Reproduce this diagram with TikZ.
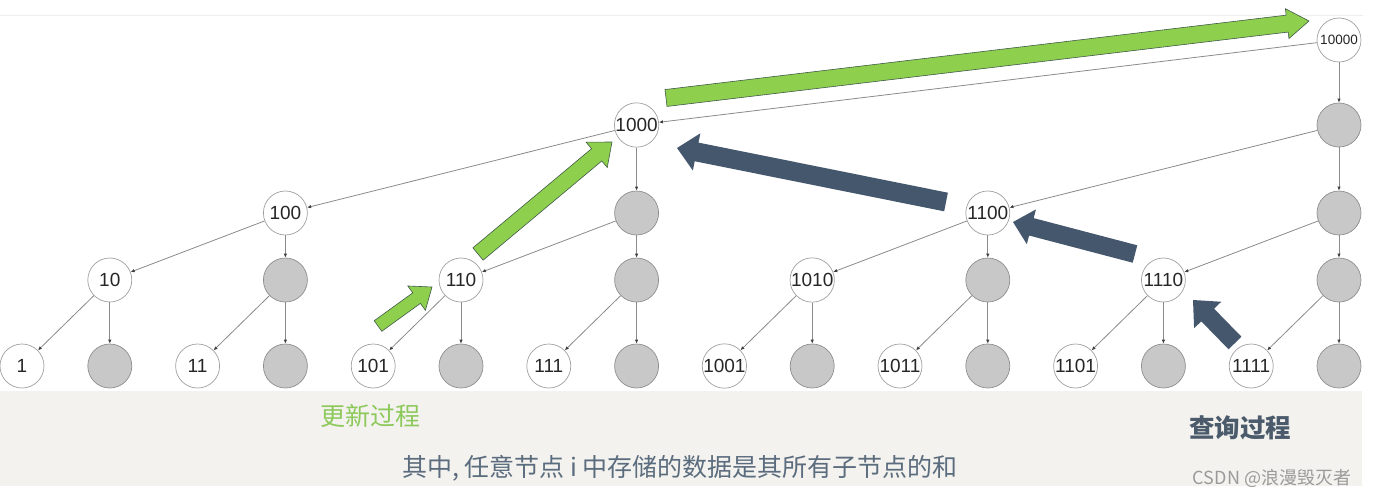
\documentclass[tikz,border=0pt]{standalone}
\usepackage{fontspec}
\setmainfont{Liberation Sans}
\newfontfamily\cjk{Noto Sans CJK SC}
\usetikzlibrary{arrows.meta,calc}
\definecolor{bandc}{HTML}{F3F2EE}
\definecolor{topline}{HTML}{EEEEEE}
\definecolor{wline}{HTML}{A0A0A0}
\definecolor{gline}{HTML}{8E8E8E}
\definecolor{gfill}{HTML}{C8C8C8}
\definecolor{edgec}{HTML}{8A8A8A}
\definecolor{greenfill}{HTML}{8FCF4E}
\definecolor{greenline}{HTML}{3F5A48}
\definecolor{darkfill}{HTML}{44576C}
\definecolor{greentext}{HTML}{8CC95A}
\definecolor{querytext}{HTML}{4B5B6C}
\definecolor{sentc}{HTML}{5B6C7E}
\definecolor{markc}{HTML}{9A9A9A}
\newcommand\blockarr[6]{%
  \coordinate (h#2) at ($(#3)!#6!(#2)$);
  \path[#1] ($(#2)!#4!90:(#3)$) -- ($(h#2)!#4!90:(#3)$) -- ($(h#2)!#5!90:(#3)$)
    -- (#3) -- ($(h#2)!#5!-90:(#3)$) -- ($(h#2)!#4!-90:(#3)$) -- ($(#2)!#4!-90:(#3)$) -- cycle;}
\begin{document}
\begin{tikzpicture}[x=1pt,y=-1pt,
  wnode/.style={circle, draw=wline, fill=white, line width=0.7pt, minimum size=44pt,
    inner sep=0pt, font=\fontsize{19}{19}\selectfont, text=black!85},
  gnode/.style={circle, draw=gline, fill=gfill, line width=0.7pt, minimum size=44pt, inner sep=0pt},
  edge/.style={draw=edgec, line width=0.8pt, -{Latex[length=4pt,width=3.5pt,color=black!75]}},
  garrow/.style={fill=greenfill, draw=greenline, line width=0.6pt, line join=miter},
  darrow/.style={fill=darkfill}]
\useasboundingbox (0,0) rectangle (1373,498);
\fill[bandc] (0,391) rectangle (1362,486);
\draw[topline, line width=1pt] (0,15) -- (1363,15);
% row 0
\node[wnode] (a0) at (22,366) {1};
\node[gnode] (a1) at (109.8,366) {};
\node[wnode] (a2) at (197.6,366) {11};
\node[gnode] (a3) at (285.4,366) {};
\node[wnode] (a4) at (373.2,366) {101};
\node[gnode] (a5) at (461,366) {};
\node[wnode] (a6) at (548.8,366) {111};
\node[gnode] (a7) at (636.6,366) {};
\node[wnode] (a8) at (724.4,366) {1001};
\node[gnode] (a9) at (812.2,366) {};
\node[wnode] (a10) at (900,366) {1011};
\node[gnode] (a11) at (987.8,366) {};
\node[wnode] (a12) at (1075.6,366) {1101};
\node[gnode] (a13) at (1163.4,366) {};
\node[wnode] (a14) at (1251.2,366) {1111};
\node[gnode] (a15) at (1339,366) {};
% row 1
\node[wnode] (b1) at (109.8,280) {10};
\node[gnode] (b3) at (285.4,280) {};
\node[wnode] (b5) at (461,280) {110};
\node[gnode] (b7) at (636.6,280) {};
\node[wnode] (b9) at (812.2,280) {1010};
\node[gnode] (b11) at (987.8,280) {};
\node[wnode] (b13) at (1163.4,280) {1110};
\node[gnode] (b15) at (1339,280) {};
% row 2
\node[wnode] (c3) at (285.4,213) {100};
\node[gnode] (c7) at (636.6,213) {};
\node[wnode] (c11) at (987.8,213) {1100};
\node[gnode] (c15) at (1339,213) {};
% row 3
\node[wnode] (d7) at (636.6,125) {1000};
\node[gnode] (d15) at (1339,125) {};
% row 4
\node[wnode, font=\fontsize{13.5}{13.5}\selectfont] (e15) at (1339,40) {10000};
% edges
\draw[edge] (e15) -- (d15);
\draw[edge] (e15) -- (d7);
\draw[edge] (d15) -- (c15);
\draw[edge] (d15) -- (c11);
\draw[edge] (d7) -- (c7);
\draw[edge] (d7) -- (c3);
\draw[edge] (c15) -- (b15);
\draw[edge] (c15) -- (b13);
\draw[edge] (c11) -- (b11);
\draw[edge] (c11) -- (b9);
\draw[edge] (c7) -- (b7);
\draw[edge] (c7) -- (b5);
\draw[edge] (c3) -- (b3);
\draw[edge] (c3) -- (b1);
\foreach \k in {1,3,...,15}{
  \pgfmathtruncatemacro\j{\k-1}
  \draw[edge] (b\k) -- (a\k);
  \draw[edge] (b\k) -- (a\j);
}
% block arrows: update (green)
\coordinate (gt1) at (378,326); \coordinate (gp1) at (432,287);
\coordinate (gt2) at (478,254); \coordinate (gp2) at (612,142);
\coordinate (gt3) at (666,98);  \coordinate (gp3) at (1309,21);
\blockarr{garrow}{gt1}{gp1}{6.5pt}{15pt}{19pt}
\blockarr{garrow}{gt2}{gp2}{8pt}{16.5pt}{20pt}
\blockarr{garrow}{gt3}{gp3}{8.5pt}{15pt}{22pt}
% block arrows: query (dark)
\coordinate (dt1) at (1235,343); \coordinate (dp1) at (1193,300);
\coordinate (dt2) at (1135,254); \coordinate (dp2) at (1013,222);
\coordinate (dt3) at (946,202);  \coordinate (dp3) at (677,148);
\blockarr{darrow}{dt1}{dp1}{9pt}{19pt}{21pt}
\blockarr{darrow}{dt2}{dp2}{9pt}{18pt}{19pt}
\blockarr{darrow}{dt3}{dp3}{9.5pt}{19pt}{20pt}
% texts
\node[font=\cjk\fontsize{25}{25}\selectfont, text=greentext] (upd) at (370,416) {更新过程};
\node[font=\cjk\bfseries\fontsize{25.5}{25.5}\selectfont, text=querytext] (qry) at (1240,428) {查询过程};
\node[font=\cjk\fontsize{25}{25}\selectfont, text=sentc] (sent) at (680,468) {其中, 任意节点 i 中存储的数据是其所有子节点的和};
\node[font=\cjk\fontsize{18}{18}\selectfont, text=markc] (mark) at (1272,478) {CSDN @浪漫毁灭者};
\end{tikzpicture}
\end{document}
